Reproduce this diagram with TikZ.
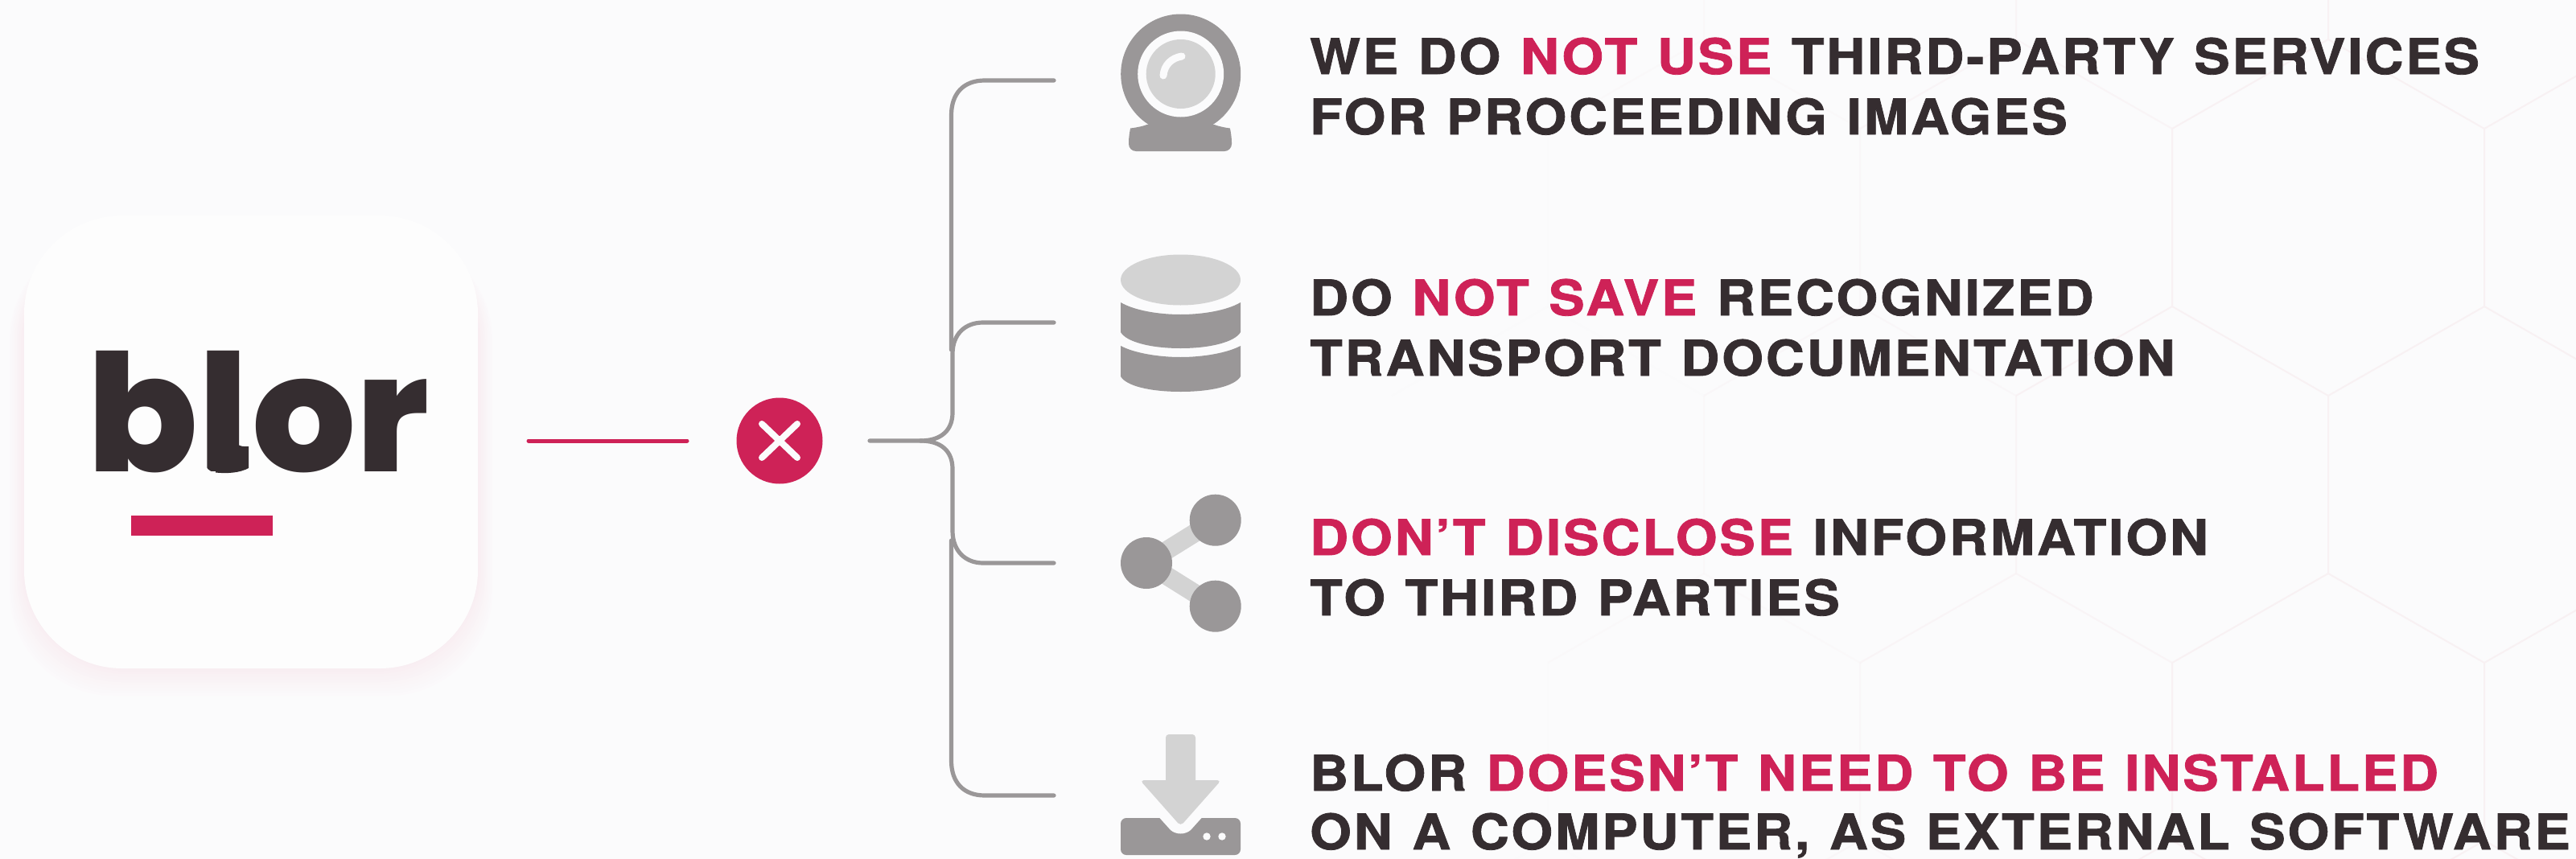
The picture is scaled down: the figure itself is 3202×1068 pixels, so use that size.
\documentclass[tikz,border=0pt]{standalone}
\usepackage{fontspec}
\usetikzlibrary{shapes.geometric}
\setmainfont{TeX Gyre Heros}
\newfontfamily\txtf[LetterSpace=4.7,FakeStretch=1.09,WordSpace=1.15,BoldFeatures={FakeBold=1.3}]{TeX Gyre Heros}
\newfontfamily\logof{Poppins ExtraBold}
\definecolor{bgc}{HTML}{FBFBFC}
\definecolor{cardc}{HTML}{FDFDFD}
\definecolor{pk}{HTML}{CE2257}
\definecolor{dk}{HTML}{352D30}
\definecolor{gr}{HTML}{9A9798}
\definecolor{lg}{HTML}{D3D3D3}
\definecolor{hx}{HTML}{F8F1F3}
\tikzset{
  msg/.style={anchor=base west,inner sep=0pt,text=dk,font=\txtf\bfseries\fontsize{61}{61}\selectfont},
  wire/.style={draw=gr,line width=5.2pt,line cap=round},
  redwire/.style={draw=pk,line width=5pt,line cap=round},
  hexl/.style={draw=hx,line width=2pt},
}
\newcommand{\pk}[1]{{\color{pk}#1}}
\begin{document}
\begin{tikzpicture}[x=1pt,y=-1pt]
\useasboundingbox (0,0) rectangle (3202,1068);
\fill[bgc] (0,0) rectangle (3202,1068);
% background hexagon grid
\foreach \yy/\xoff in {-172/2506,160/2700,492/2506,824/2700}{
  \foreach \k in {-3,...,3}{
    \pgfmathsetmacro{\xa}{\xoff+388*\k}
    \pgfmathsetmacro{\op}{min(1,max(0,(\xa-1750)/1000))^1.5}
    \ifdim\xa pt>1900pt
    \draw[hexl,opacity=\op] (\xa,\yy) -- (\xa,\yy+221) -- (\xa+194,\yy+332);
    \draw[hexl,opacity=\op] (\xa,\yy+221) -- (\xa-194,\yy+332);
    \fi
  }
}
% logo card
\foreach \i in {44,40,...,0}{
  \pgfmathsetmacro{\p}{6.5-\i*0.145}
  \fill[pk!\p!bgc,rounded corners=130pt] (30-\i*0.45,268+25) rectangle (594+\i*0.45,831+\i*0.85);
}
\node (card) [fill=cardc,rounded corners=122pt,minimum width=564pt,minimum height=563pt,inner sep=0pt] at (312,549.5) {};
\node (logo) [anchor=base west,inner sep=0pt,text=dk,font=\logof\fontsize{203}{203}\selectfont] at (108,586) {bl\kern5pt or};
% l's curved foot
\fill[cardc] (248,566) -- (251.5,566) .. controls (252,578) and (258,586) .. (268,588) -- (248,590) -- cycle;
\fill[dk] (288,545) -- (292,545) .. controls (292,552) and (297,556) .. (309,555) -- (309,582) .. controls (298,588) and (282,589) .. (268,587.5) -- (270,560) -- cycle;
\node (bar) [fill=pk,minimum width=176pt,minimum height=25pt,inner sep=0pt] at (251,653.5) {};
% connectors
\coordinate (r1) at (657,548);
\coordinate (r2) at (854,548);
\draw[redwire] (r1) -- (r2);
\node (x) [circle,fill=pk,minimum size=107pt,inner sep=0pt] at (969,548) {};
\draw[line width=8pt,draw=bgc,line cap=round] (947,527) -- (991,569) (947,569) -- (991,527);
\coordinate (g0) at (1081,548);
\coordinate (e1) at (1310,100);
\coordinate (e2) at (1310,401);
\coordinate (e3) at (1310,700);
\coordinate (e4) at (1310,989);
\draw[wire] (g0) -- (1144,548) .. controls (1170,548) and (1184,535) .. (1184,513)
  -- (1184,440) .. controls (1184,415) and (1200,401) .. (1222,401) -- (e2);
\draw[wire] (1144,548) .. controls (1170,548) and (1184,561) .. (1184,583)
  -- (1184,660) .. controls (1184,685) and (1200,700) .. (1222,700) -- (e3);
\draw[wire] (1182.5,435) -- (1182.5,143) .. controls (1182.5,116) and (1198,100) .. (1224,100) -- (e1);
\draw[wire] (1182.5,672) -- (1182.5,946) .. controls (1182.5,973) and (1198,989) .. (1224,989) -- (e4);
% webcam
\fill[gr,rounded corners=9pt] (1403,188) -- (1403,168) .. controls (1405,160) and (1420,157) .. (1430,153) -- (1505,153) .. controls (1515,157) and (1529,160) .. (1531,168) -- (1531,188) -- cycle;
\node (cam) [circle,fill=gr,minimum size=149pt,inner sep=0pt] at (1467.7,92) {};
\node (camring) [circle,fill=bgc,minimum size=107pt,inner sep=0pt] at (1467.7,92) {};
\node (camlens) [circle,fill=lg,minimum size=86pt,inner sep=0pt] at (1467.7,92) {};
\draw[line width=9pt,draw=bgc,line cap=round] (1446,94) .. controls (1447,81) and (1456,72) .. (1469,70);
% database
\fill[gr] (1393,376) .. controls (1410,386) and (1440,391) .. (1467.5,391) .. controls (1495,391) and (1525,386) .. (1542,376)
  -- (1542,413) .. controls (1535,425) and (1505,433) .. (1467.5,433) .. controls (1430,433) and (1400,425) .. (1393,413) -- cycle;
\fill[gr] (1393,430) .. controls (1410,439) and (1440,444) .. (1467.5,444) .. controls (1495,444) and (1525,439) .. (1542,430)
  -- (1542,468) .. controls (1535,480) and (1505,487) .. (1467.5,487) .. controls (1430,487) and (1400,480) .. (1393,468) -- cycle;
\node (dbtop) [ellipse,fill=lg,minimum width=149pt,minimum height=63pt,inner sep=0pt] at (1467.5,348) {};
% share
\coordinate (sc) at (1425,700);
\coordinate (st) at (1510.7,646.7);
\coordinate (sb) at (1510.7,753.7);
\draw[lg,line width=23pt] (sc) -- (st) (sc) -- (sb);
\node (s1) [circle,fill=gr,minimum size=64pt,inner sep=0pt] at (st) {};
\node (s2) [circle,fill=gr,minimum size=64pt,inner sep=0pt] at (sb) {};
\node (s3) [circle,fill=gr,minimum size=64pt,inner sep=0pt] at (sc) {};
% download
\fill[gr,rounded corners=7pt] (1393,1017) rectangle (1542,1063);
\fill[bgc] (1437,1012) -- (1498,1012) -- (1480,1032) .. controls (1473,1038) and (1462,1038) .. (1455,1032) -- cycle;
\fill[lg,rounded corners=4pt] (1449,975) -- (1449,913) -- (1486,913) -- (1486,975) -- cycle;
\fill[lg,rounded corners=5pt] (1417,970) -- (1518,970) -- (1467.5,1027) -- cycle;
\fill[bgc] (1500,1040) circle (4.7pt) (1519,1040) circle (4.7pt);
% texts
\node (t1) [msg] at (1628,92) {WE DO \pk{NOT USE} THIRD-PARTY SERVICES};
\node (t2) [msg] at (1628,167) {FOR PROCEEDING IMAGES};
\node (t3) [msg] at (1628,392) {DO \pk{NOT SAVE} RECOGNIZED};
\node (t4) [msg] at (1628,467) {TRANSPORT DOCUMENTATION};
\node (t5) [msg] at (1628,690) {\pk{DON’T DISCLOSE} INFORMATION};
\node (t6) [msg] at (1628,765) {TO THIRD PARTIES};
\node (t7) [msg] at (1628,983) {BLOR \pk{DOESN’T NEED TO BE INSTALLED}};
\node (t8) [msg] at (1628,1056) {ON A COMPUTER, AS EXTERNAL SOFTWARE};
\end{tikzpicture}
\end{document}
